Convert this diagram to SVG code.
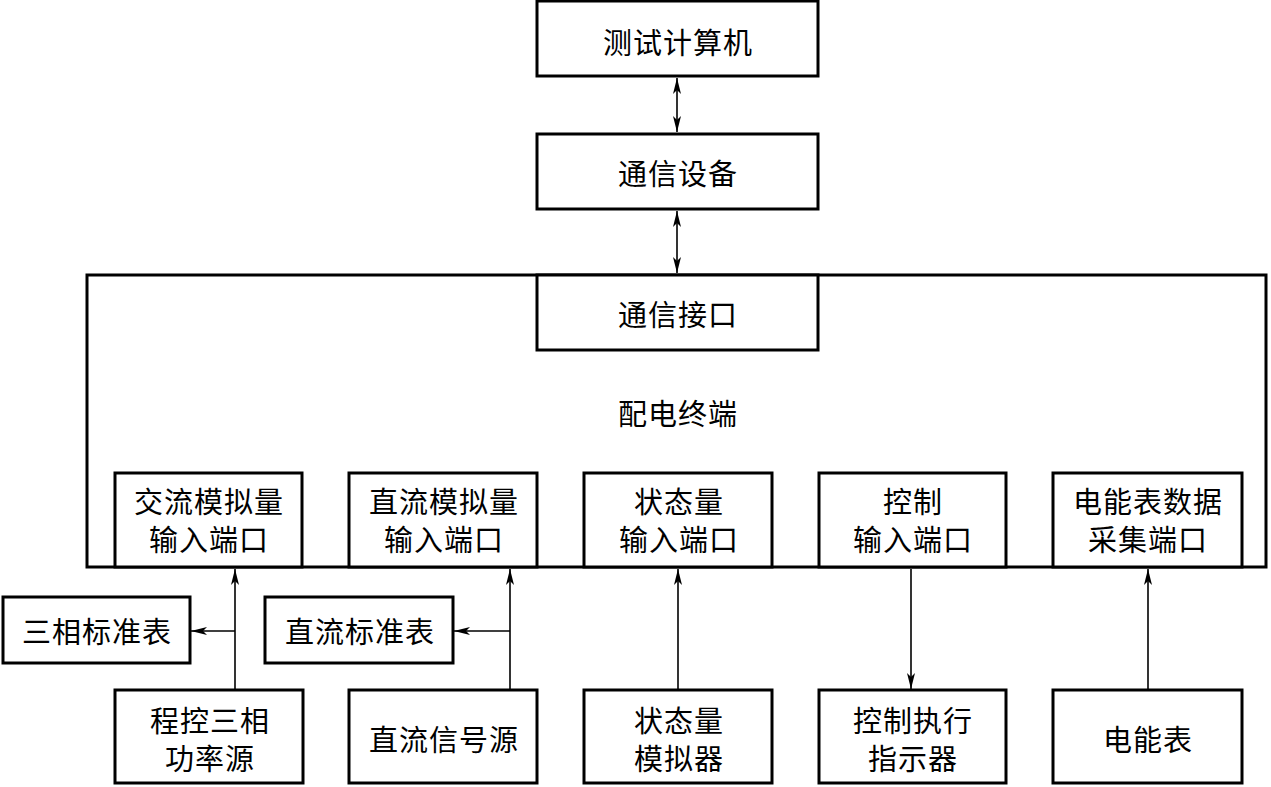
<svg xmlns="http://www.w3.org/2000/svg" width="1271" height="787" viewBox="0 0 1271 787">
<defs>
<style>
.box{fill:#fff;stroke:#000;stroke-width:3}
.outer{fill:none;stroke:#000;stroke-width:3}
.lbl{font-family:"Noto Sans CJK SC","Noto Sans",sans-serif;font-size:29px;letter-spacing:1px;fill:#000;text-anchor:middle;dominant-baseline:central}
.wire{fill:none;stroke:#000;stroke-width:1.6}
</style>
<marker id="ah" viewBox="0 0 16 8" refX="16" refY="4" markerWidth="16" markerHeight="8" markerUnits="userSpaceOnUse" orient="auto-start-reverse">
<path d="M0,0 L16,4 L0,8 L4,4 z" fill="#000"/>
</marker>
</defs>
<rect width="1271" height="787" fill="#fff"/>
<g id="terminal">
<rect class="outer" x="87" y="275" width="1179" height="292"/>
<text class="lbl" x="678" y="412">配电终端</text>
</g>
<g id="computer">
<rect class="box" x="537" y="1" width="281" height="75"/>
<text class="lbl" x="678" y="41">测试计算机</text>
</g>
<g id="comm_device">
<rect class="box" x="537" y="134" width="281" height="75"/>
<text class="lbl" x="678" y="172">通信设备</text>
</g>
<g id="comm_port">
<rect class="box" x="537" y="275" width="281" height="75"/>
<text class="lbl" x="678" y="313">通信接口</text>
</g>
<g id="ac_port">
<rect class="box" x="115" y="473" width="187" height="94"/>
<text class="lbl" x="209" y="500">交流模拟量</text>
<text class="lbl" x="209" y="538">输入端口</text>
</g>
<g id="dc_port">
<rect class="box" x="349" y="473" width="188" height="94"/>
<text class="lbl" x="444" y="500">直流模拟量</text>
<text class="lbl" x="444" y="538">输入端口</text>
</g>
<g id="state_port">
<rect class="box" x="584" y="473" width="188" height="94"/>
<text class="lbl" x="679" y="500">状态量</text>
<text class="lbl" x="679" y="538">输入端口</text>
</g>
<g id="ctrl_port">
<rect class="box" x="819" y="473" width="187" height="94"/>
<text class="lbl" x="913" y="500">控制</text>
<text class="lbl" x="913" y="538">输入端口</text>
</g>
<g id="meter_port">
<rect class="box" x="1053" y="473" width="189" height="94"/>
<text class="lbl" x="1148" y="500">电能表数据</text>
<text class="lbl" x="1148" y="538">采集端口</text>
</g>
<g id="std3">
<rect class="box" x="3" y="597" width="187" height="66"/>
<text class="lbl" x="97" y="630">三相标准表</text>
</g>
<g id="stddc">
<rect class="box" x="265" y="597" width="188" height="66"/>
<text class="lbl" x="360" y="630">直流标准表</text>
</g>
<g id="power3">
<rect class="box" x="115" y="690" width="188" height="93"/>
<text class="lbl" x="210" y="719">程控三相</text>
<text class="lbl" x="210" y="757">功率源</text>
</g>
<g id="dcsource">
<rect class="box" x="349" y="690" width="188" height="93"/>
<text class="lbl" x="444" y="738">直流信号源</text>
</g>
<g id="statesim">
<rect class="box" x="584" y="690" width="188" height="93"/>
<text class="lbl" x="679" y="719">状态量</text>
<text class="lbl" x="679" y="757">模拟器</text>
</g>
<g id="ctrlind">
<rect class="box" x="819" y="690" width="187" height="93"/>
<text class="lbl" x="913" y="719">控制执行</text>
<text class="lbl" x="913" y="757">指示器</text>
</g>
<g id="meter">
<rect class="box" x="1053" y="690" width="189" height="93"/>
<text class="lbl" x="1148" y="738">电能表</text>
</g>
<g id="connectors">
<line class="wire" x1="677" y1="78" x2="677" y2="132" marker-start="url(#ah)" marker-end="url(#ah)"/>
<line class="wire" x1="677" y1="211" x2="677" y2="273" marker-start="url(#ah)" marker-end="url(#ah)"/>
<line class="wire" x1="235" y1="689" x2="235" y2="569" marker-end="url(#ah)"/>
<line class="wire" x1="235" y1="631" x2="191" y2="631" marker-end="url(#ah)"/>
<line class="wire" x1="510" y1="689" x2="510" y2="569" marker-end="url(#ah)"/>
<line class="wire" x1="510" y1="631" x2="454" y2="631" marker-end="url(#ah)"/>
<line class="wire" x1="678" y1="689" x2="678" y2="569" marker-end="url(#ah)"/>
<line class="wire" x1="911" y1="569" x2="911" y2="689" marker-end="url(#ah)"/>
<line class="wire" x1="1148" y1="689" x2="1148" y2="569" marker-end="url(#ah)"/>
</g>
</svg>
